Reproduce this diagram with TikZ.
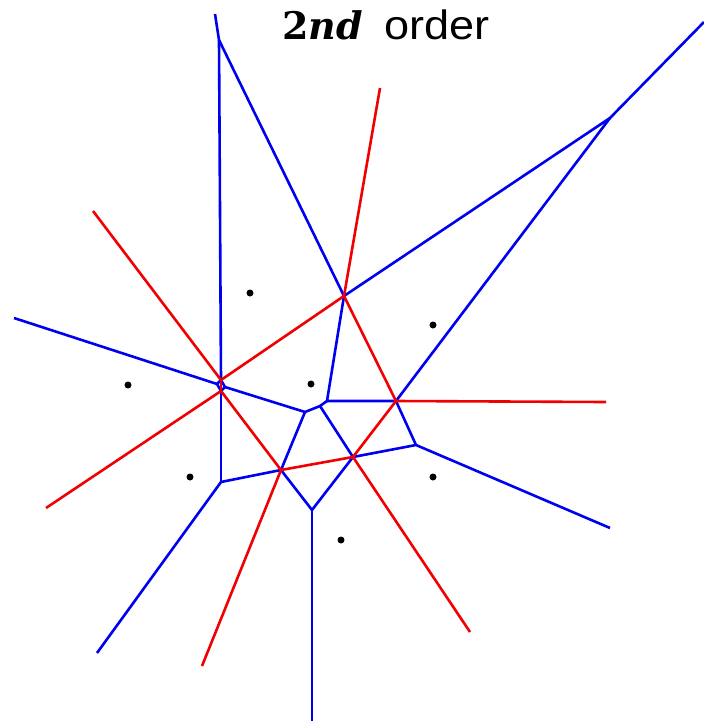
\documentclass[tikz,border=0pt]{standalone}
\usepackage{fontspec}
\setmainfont{Liberation Sans}
\newfontfamily\serifbi{DejaVu Serif}
\begin{document}
\begin{tikzpicture}[x=1pt,y=-1pt,
  blueedge/.style={draw={rgb,255:red,0;green,0;blue,240},line width=2.6pt,line join=round},
  rededge/.style={draw={rgb,255:red,240;green,0;blue,0},line width=2.6pt,line join=round},
  site/.style={circle,fill=black,inner sep=0pt,minimum size=7pt}]
\useasboundingbox (0,0) rectangle (704,721);
% title
\node[anchor=base west,inner sep=0pt,font=\fontsize{38}{44}\selectfont] (title1) at (282,39) {\serifbi\bfseries 2\itshape nd};
\node[anchor=base west,inner sep=0pt,xscale=1.1,font=\fontsize{41}{46}\selectfont] (title2) at (384,39) {order};
% vertices
\coordinate (T0) at (215,14);
\coordinate (T1) at (219,40);
\coordinate (R0) at (704,22);
\coordinate (R1) at (610,118);
\coordinate (G) at (344,296);
\coordinate (F) at (396,401);
\coordinate (A) at (327,401);
\coordinate (B) at (320,406);
\coordinate (C) at (305,412);
\coordinate (D) at (281,470);
\coordinate (E) at (353,457);
\coordinate (H) at (416,445);
\coordinate (I) at (312,510);
\coordinate (J) at (221,482);
\coordinate (Pl) at (217,384);
\coordinate (Pt) at (221,380);
\coordinate (Pr) at (225,387);
\coordinate (Pb) at (221,391);
% outer ends
\coordinate (bl1) at (14,318);
\coordinate (bl2) at (97,653);
\coordinate (bb) at (312,721);
\coordinate (br) at (610,528);
\coordinate (rt) at (380,88);
\coordinate (rtl) at (93,211);
\coordinate (rbl) at (46,508);
\coordinate (rb) at (202,666);
\coordinate (rbr) at (470,632);
\coordinate (rr) at (606,402);
% blue edges
\draw[blueedge] (T0) -- (T1) -- (Pt);
\draw[blueedge] (T1) -- (G);
\draw[blueedge] (R0) -- (R1) -- (G);
\draw[blueedge] (R1) -- (F);
\draw[blueedge] (G) -- (A) -- (F);
\draw[blueedge] (A) -- (B) -- (C);
\draw[blueedge] (B) -- (E);
\draw[blueedge] (C) -- (D);
\draw[blueedge] (C) -- (Pr);
\draw[blueedge] (Pl) -- (Pt) -- (Pr) -- (Pb) -- cycle;
\draw[blueedge] (bl1) -- (Pl);
\draw[blueedge] (Pb) -- (J);
\draw[blueedge] (J) -- (bl2);
\draw[blueedge] (J) -- (D) -- (I) -- (E);
\draw[blueedge] (I) -- (bb);
\draw[blueedge] (E) -- (H) -- (br);
\draw[blueedge] (H) -- (F);
% red edges
\draw[rededge] (rt) -- (G) -- (F) -- (rr);
\draw[rededge] (F) -- (E) -- (rbr);
\draw[rededge] (E) -- (D) -- (rb);
\draw[rededge] (D) -- (Pb) -- (rbl);
\draw[rededge] (Pb) -- (Pt);
\draw[rededge] (rtl) -- (Pt) -- (G);
% sites
\node[site] (s1) at (250,293) {};
\node[site] (s2) at (433,325) {};
\node[site] (s3) at (128,385) {};
\node[site] (s4) at (311,384) {};
\node[site] (s5) at (190,477) {};
\node[site] (s6) at (433,477) {};
\node[site] (s7) at (341,540) {};
\end{tikzpicture}
\end{document}
